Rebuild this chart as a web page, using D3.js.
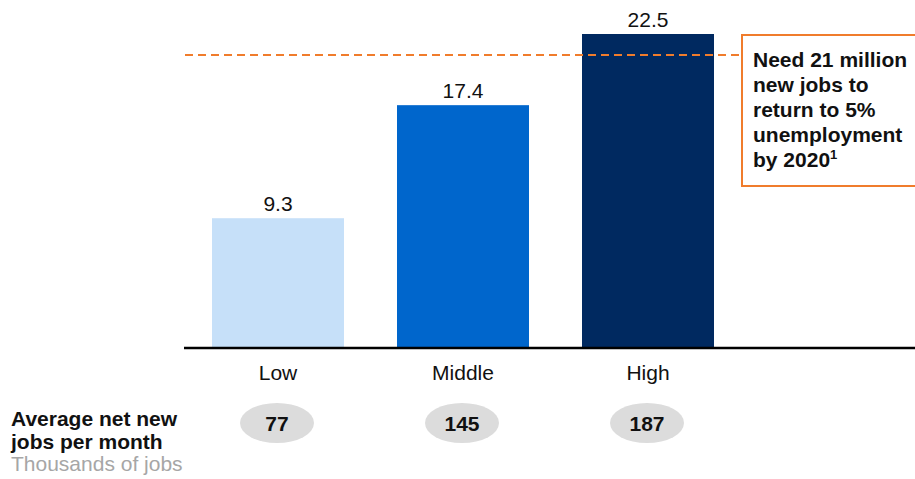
<!DOCTYPE html>
<html><head><meta charset="utf-8">
<script src="https://cdn.jsdelivr.net/npm/d3@7"></script>
<style>body{margin:0;background:#fff}svg{display:block;font-family:Arial,"Liberation Sans",sans-serif}</style>
</head><body><svg id="c" width="915" height="479"></svg>
<script>
const categories = ["Low","Middle","High"];
const values = [9.3, 17.4, 22.5];
const jobsPerMonth = [77, 145, 187];
const targetValue = 21;
const barColors = ["#c6e0f9","#0066cc","#002960"];
const noteLines = ["Need 21 million","new jobs to","return to 5%","unemployment","by 2020"];

const svg = d3.select("#c");
const baseY = 348;
const FS = 21;
const x = d3.scaleBand().domain(categories).range([212, 714]).paddingInner(0.2865).paddingOuter(0);
const y = d3.scaleLinear().domain([0, 22.5]).range([baseY, 34]);

svg.selectAll("rect.bar").data(categories).join("rect").attr("class","bar")
  .attr("x", d=>x(d)).attr("width", x.bandwidth())
  .attr("y", (d,i)=>y(values[i])).attr("height", (d,i)=>baseY - y(values[i]))
  .attr("fill", (d,i)=>barColors[i]);

svg.selectAll("text.val").data(categories).join("text").attr("class","val")
  .attr("x", d=>x(d)+x.bandwidth()/2).attr("y", (d,i)=>y(values[i])-7)
  .attr("text-anchor","middle").attr("font-size",FS).attr("fill","#111")
  .text((d,i)=>values[i].toFixed(1));

// target line
svg.append("line").attr("x1",185).attr("x2",742).attr("y1",y(targetValue)).attr("y2",y(targetValue))
  .attr("stroke","#f07c2c").attr("stroke-width",2).attr("stroke-dasharray","8,5");

// axis
const axis = d3.axisBottom(x).tickSize(0).tickPadding(0);
const ax = svg.append("g").attr("transform",`translate(0,${baseY})`).call(axis);
ax.select(".domain").remove();
ax.selectAll("text").attr("font-size",FS).attr("fill","#111").attr("dy",0).attr("y",32)
  .attr("font-family","Arial, 'Liberation Sans', sans-serif");
svg.append("line").attr("x1",184).attr("x2",915).attr("y1",baseY).attr("y2",baseY)
  .attr("stroke","#000").attr("stroke-width",2.5);

// note box
svg.append("rect").attr("x",742).attr("y",35).attr("width",200).attr("height",151)
  .attr("fill","#fff").attr("stroke","#f07c2c").attr("stroke-width",2);
const nt = svg.append("text").attr("font-size",FS).attr("font-weight","bold").attr("fill","#111");
noteLines.forEach((l,i)=>{
  nt.append("tspan").attr("x",753).attr("y",67+i*25).text(l);
  if(i===noteLines.length-1){
    nt.append("tspan").attr("font-size",13).attr("dy",-8).text("1");
  }
});

// ellipses
svg.selectAll("ellipse.j").data(categories).join("ellipse").attr("class","j")
  .attr("cx", d=>x(d)+x.bandwidth()/2-1).attr("cy",423).attr("rx",37).attr("ry",20)
  .attr("fill","#dcdcdc");
svg.selectAll("text.j").data(categories).join("text").attr("class","j")
  .attr("x", d=>x(d)+x.bandwidth()/2-1).attr("y",431)
  .attr("text-anchor","middle").attr("font-size",FS).attr("font-weight","bold").attr("fill","#111")
  .text((d,i)=>jobsPerMonth[i]);

// left labels
svg.append("text").attr("x",11).attr("y",426).attr("font-size",FS).attr("font-weight","bold").attr("fill","#111").text("Average net new");
svg.append("text").attr("x",11).attr("y",449).attr("font-size",FS).attr("font-weight","bold").attr("fill","#111").text("jobs per month");
svg.append("text").attr("x",11).attr("y",471).attr("font-size",FS).attr("fill","#a6a6a6").text("Thousands of jobs");
</script></body></html>
